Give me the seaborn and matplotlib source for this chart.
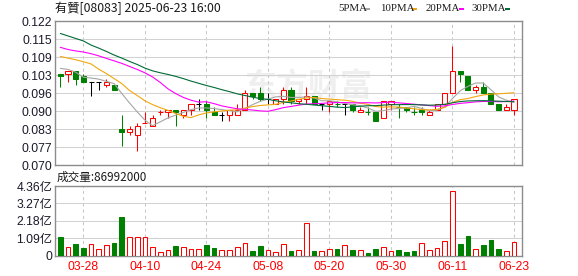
import numpy as np
import pandas as pd
import matplotlib
matplotlib.use("Agg")
import matplotlib.pyplot as plt
from matplotlib.patches import Rectangle
import seaborn as sns

# ---------------- data ----------------
title_text = "有贊[08083] 2025-06-23 16:00"
vol_title = "成交量:86992000"
date_tick_labels = ["03-28", "04-10", "04-24", "05-08", "05-20", "05-30", "06-11", "06-23"]
date_tick_index = [3, 11, 19, 27, 35, 43, 51, 59]

opens = [0.103, 0.103, 0.104, 0.102, 0.100, 0.100, 0.099, 0.099, 0.083, 0.082,
         0.081, 0.085, 0.084, 0.089, 0.089, 0.090, 0.088, 0.090, 0.092, 0.092,
         0.089, 0.088, 0.088, 0.088, 0.090, 0.096, 0.096, 0.094, 0.092, 0.094,
         0.097, 0.093, 0.094, 0.095, 0.092, 0.092, 0.092, 0.092, 0.092, 0.089,
         0.089, 0.089, 0.087, 0.092, 0.091, 0.091, 0.089, 0.090, 0.088, 0.090,
         0.092, 0.096, 0.104, 0.102, 0.097, 0.098, 0.096, 0.092, 0.090, 0.090]
highs = [0.103, 0.104, 0.104, 0.103, 0.100, 0.100, 0.101, 0.099, 0.088, 0.084,
         0.085, 0.089, 0.088, 0.090, 0.090, 0.090, 0.090, 0.092, 0.094, 0.093,
         0.091, 0.089, 0.090, 0.092, 0.097, 0.096, 0.098, 0.096, 0.094, 0.098,
         0.098, 0.094, 0.098, 0.095, 0.092, 0.093, 0.093, 0.092, 0.092, 0.091,
         0.091, 0.089, 0.093, 0.093, 0.092, 0.091, 0.091, 0.091, 0.090, 0.092,
         0.096, 0.113, 0.104, 0.102, 0.099, 0.100, 0.096, 0.092, 0.092, 0.094]
lows = [0.098, 0.100, 0.099, 0.100, 0.095, 0.097, 0.098, 0.097, 0.077, 0.081,
        0.075, 0.085, 0.084, 0.088, 0.087, 0.084, 0.087, 0.088, 0.090, 0.087,
        0.088, 0.086, 0.086, 0.088, 0.090, 0.094, 0.093, 0.092, 0.092, 0.092,
        0.092, 0.092, 0.092, 0.092, 0.090, 0.089, 0.091, 0.088, 0.089, 0.089,
        0.088, 0.086, 0.087, 0.090, 0.087, 0.089, 0.088, 0.088, 0.088, 0.090,
        0.092, 0.096, 0.100, 0.097, 0.096, 0.096, 0.092, 0.090, 0.090, 0.088]
closes = [0.102, 0.104, 0.101, 0.100, 0.100, 0.100, 0.100, 0.097, 0.082, 0.083,
          0.084, 0.085, 0.087, 0.089, 0.090, 0.089, 0.090, 0.092, 0.092, 0.090,
          0.088, 0.088, 0.090, 0.090, 0.096, 0.095, 0.094, 0.094, 0.094, 0.097,
          0.093, 0.094, 0.095, 0.092, 0.092, 0.093, 0.092, 0.092, 0.090, 0.090,
          0.089, 0.086, 0.093, 0.093, 0.091, 0.090, 0.089, 0.089, 0.089, 0.092,
          0.096, 0.104, 0.103, 0.097, 0.098, 0.096, 0.092, 0.090, 0.091, 0.094]
prev_close_before_first = 0.104

# volume in 亿 shares
volumes = [1.17, 0.53, 0.74, 0.49, 0.72, 0.40, 0.65, 0.80, 2.42, 1.15,
           1.15, 1.15, 0.53, 0.22, 0.34, 0.59, 0.53, 0.40, 0.40, 0.67,
           0.49, 0.34, 0.34, 0.53, 0.78, 0.30, 0.59, 0.34, 0.22, 0.72,
           0.30, 0.34, 2.02, 0.30, 0.28, 0.40, 0.43, 0.65, 0.36, 0.34,
           0.18, 0.43, 0.53, 0.28, 0.36, 0.24, 0.30, 0.78, 0.34, 0.47,
           0.90, 4.02, 0.74, 1.24, 0.40, 0.67, 0.99, 0.43, 0.28, 0.87]

# moving-average values before enough in-window closes exist
ma5_lead = [0.1049, 0.1045, 0.1035, 0.1017]
ma10_lead = [0.1092, 0.1086, 0.1080, 0.1073, 0.1065, 0.1046, 0.1030, 0.1012, 0.0994]
ma20_lead = [0.1125, 0.1117, 0.1112, 0.1108, 0.1102, 0.1094, 0.1085, 0.1076, 0.1067,
             0.1056, 0.1045, 0.1033, 0.1018, 0.0998, 0.0975, 0.0958, 0.0944, 0.0934, 0.0927]
ma30_lead = [0.1175, 0.1166, 0.1157, 0.1148, 0.1133, 0.1122, 0.1110, 0.1097, 0.1086,
             0.1074, 0.1063, 0.1050, 0.1040, 0.1033, 0.1027, 0.1020, 0.1012, 0.1003,
             0.0995, 0.0987, 0.0980, 0.0972, 0.0965, 0.0957, 0.0951, 0.0945, 0.0940,
             0.0937, 0.0932]

ma_names = ["5PMA", "10PMA", "20PMA", "30PMA"]
ma_windows = [5, 10, 20, 30]
ma_colors = ["#a6a6a6", "#f2a60c", "#ff00ff", "#006b36"]

price_tick_labels = ["0.070", "0.077", "0.083", "0.090", "0.096", "0.103", "0.109", "0.115", "0.122"]
price_min, price_max = 0.070, 0.122
vol_tick_values = [0, 1.09, 2.18, 3.27, 4.36]
vol_tick_labels = ["0", "1.09亿", "2.18亿", "3.27亿", "4.36亿"]

RED = "#ff0000"
GREEN = "#008000"
BLACK = "#000000"

# ---------------- frame ----------------
sns.set_style("white")
plt.rcParams["font.family"] = ["Liberation Sans", "Noto Sans CJK SC", "DejaVu Sans"]

W, H = 578, 276
fig = plt.figure(figsize=(W / 100, H / 100), dpi=100)
L, R = 55, 522
ax = fig.add_axes([L / W, 1 - 165 / H, (R - L) / W, 144 / H])
axv = fig.add_axes([L / W, 1 - 255.5 / H, (R - L) / W, 69.5 / H])

n = len(closes)
xs = np.arange(n)
prev = [prev_close_before_first] + closes[:-1]
lw = 0.75
bw = 0.66

# moving averages
cs = pd.Series(closes)
leads = {5: ma5_lead, 10: ma10_lead, 20: ma20_lead, 30: ma30_lead}
df_rows = []
for name, w in zip(ma_names, ma_windows):
    ma = cs.rolling(w).mean().to_numpy()
    ma[: w - 1] = leads[w]
    df_rows.append(pd.DataFrame({"x": xs, "value": ma, "ma": name}))
ma_df = pd.concat(df_rows, ignore_index=True)

# watermark
ax.text(0.405, 0.535, "东方财富", transform=ax.transAxes, fontsize=23, color="#efefef",
        family=["Noto Sans CJK SC"], fontweight="bold", va="center", ha="left", zorder=0)

# candles
for i in range(n):
    o, h, l, c = opens[i], highs[i], lows[i], closes[i]
    if c > o:
        col, kind = RED, "up"
    elif c < o:
        col, kind = GREEN, "down"
    else:
        col = RED if c > prev[i] else (GREEN if c < prev[i] else BLACK)
        kind = "flat"
    ax.vlines(i, l, h, color=col, lw=lw, zorder=3)
    if kind == "up":
        ax.add_patch(Rectangle((i - bw / 2, o), bw, c - o, facecolor="white",
                               edgecolor=col, lw=lw, zorder=4))
    elif kind == "down":
        ax.add_patch(Rectangle((i - bw / 2, c), bw, o - c, facecolor=col,
                               edgecolor=col, lw=lw, zorder=4))
    else:
        ax.hlines(c, i - bw / 2, i + bw / 2, color=col, lw=lw, zorder=4)

sns.lineplot(data=ma_df, x="x", y="value", hue="ma", palette=ma_colors,
             hue_order=ma_names, ax=ax, lw=0.8, legend=False, zorder=5)

ax.set_xlim(-0.69, n + 0.04)
ax.set_ylim(price_min, price_max)
ax.set_yticks(np.linspace(price_min, price_max, len(price_tick_labels)))
ax.set_yticklabels(price_tick_labels)
ax.set_xticks(date_tick_index)
ax.set_xticklabels([])
ax.set_xlabel("")
ax.set_ylabel("")
ax.grid(axis="y", color="#d2d2d2", lw=0.75, zorder=0)
ax.grid(axis="x", color="#c8c8c8", lw=0.75, linestyle=(0, (3, 3)), zorder=0)
ax.set_axisbelow(True)
ax.tick_params(axis="both", length=0, pad=2, labelsize=8.7, labelcolor="#1a1a2a")

# volume
vcols = [RED if closes[i] >= prev[i] else GREEN for i in range(n)]
vfaces = ["white" if c == RED else c for c in vcols]
axv.bar(xs, volumes, width=bw - 0.05, color=vfaces, edgecolor=vcols, lw=lw, zorder=3)
axv.set_xlim(-0.69, n + 0.04)
axv.set_ylim(0, 4.36)
axv.set_yticks(vol_tick_values)
axv.set_yticklabels(vol_tick_labels)
axv.set_xticks(date_tick_index)
axv.set_xticklabels(date_tick_labels)
axv.grid(axis="y", color="#d2d2d2", lw=0.75, zorder=0)
axv.grid(axis="x", color="#c8c8c8", lw=0.75, linestyle=(0, (3, 3)), zorder=0)
axv.set_axisbelow(True)
axv.tick_params(axis="y", length=0, pad=2, labelsize=8.7, labelcolor="#1a1a2a")
axv.tick_params(axis="x", length=0, pad=4, labelsize=8.7, labelcolor=RED)

for a in (ax, axv):
    for s in a.spines.values():
        s.set_visible(True)
        s.set_color("#8c8c8c")
        s.set_linewidth(1.0)

# texts
fig.text(55 / W, 1 - 8.5 / H, title_text, fontsize=8.8, va="center", ha="left",
         color="#1a1a1a", family=["Noto Sans CJK TC", "Noto Sans CJK SC", "DejaVu Sans"])
fig.text(57 / W, 1 - 177 / H, vol_title, fontsize=8.4, va="center", ha="left",
         color="#1a1a1a", family=["Noto Sans CJK SC", "DejaVu Sans"])

legend_x = [338, 380, 425.7, 471.7]
legend_sq = [364.7, 412, 458.7, 504.7]
for name, col, tx, sx in zip(ma_names, ma_colors, legend_x, legend_sq):
    fig.text(tx / W, 1 - 8.5 / H, name, fontsize=7.8, va="center", ha="left",
             color="#1a1a1a", family=["Liberation Serif"])
    fig.patches.append(Rectangle((sx / W, 1 - 10 / H), 5 / W, 2.4 / H,
                                 transform=fig.transFigure, facecolor=col,
                                 edgecolor="none"))

fig.savefig("out.png", dpi=100)
